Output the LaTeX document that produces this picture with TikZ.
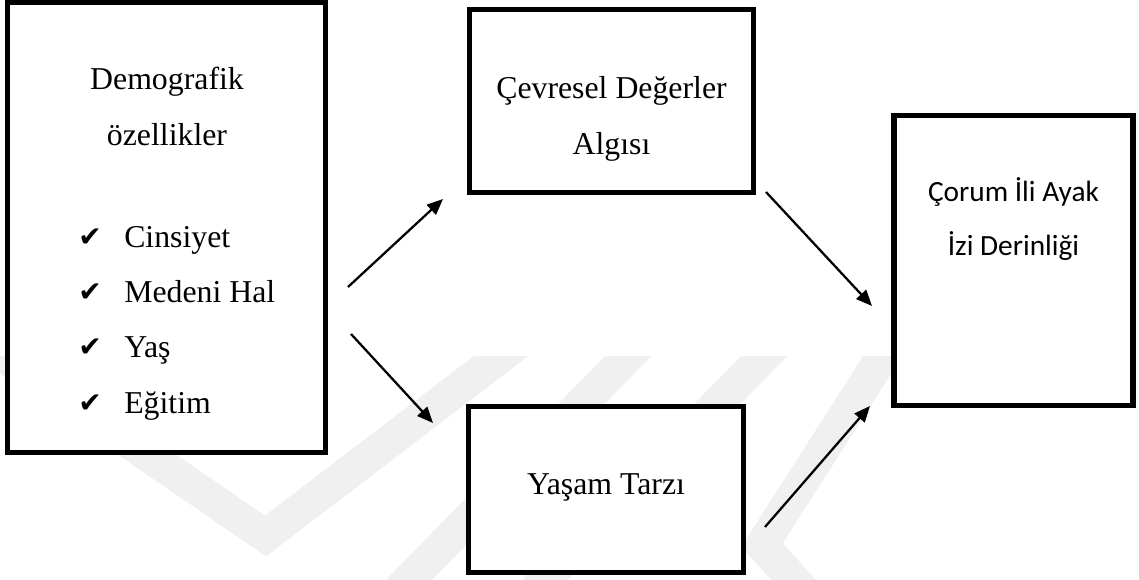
\documentclass[tikz,border=0pt]{standalone}
\usepackage{fontspec}
\setmainfont{Liberation Serif}
\newfontfamily\calib{Carlito}
\newfontfamily\dejavu{DejaVu Sans}
\usetikzlibrary{arrows.meta}
\begin{document}
\begin{tikzpicture}[x=0.75pt,y=-0.75pt,
  boxshape/.style={draw=black, line width=4.1pt, fill=white, inner sep=0pt},
  tnr/.style={font=\fontsize{23.85}{28}\selectfont, anchor=base, inner sep=0pt},
  tnrl/.style={tnr, anchor=base west},
  cal/.style={font=\calib\fontsize{22}{26}\selectfont, anchor=base, inner sep=0pt},
  chk/.style={font=\dejavu\fontsize{21}{24}\selectfont, anchor=base, inner sep=0pt},
  conn/.style={line width=1.7pt, -{Triangle[length=12pt,width=10pt]}},
  wm/.style={draw=black!6, line width=24.75pt, line join=miter}]
\useasboundingbox[fill=white] (0,0) rectangle (1139,580);
% watermark
\begin{scope}
  \clip (0,357) rectangle (1139,580);
  \draw[wm] (-20,340) -- (265.5,536) -- (522,340);
  \draw[wm] (644,340) -- (399,590);
  \draw[wm] (780,340) -- (535,590);
  \draw[wm] (893,340) -- (762,545) -- (830,620);
\end{scope}
% boxes
\node[boxshape, minimum width=238.13pt, minimum height=337.13pt] (demo) at (166.5,227.5) {};
\node[boxshape, minimum width=212.63pt, minimum height=136.88pt] (cevre) at (611.5,101) {};
\node[boxshape, minimum width=179.44pt, minimum height=217.13pt] (corum) at (1013.4,260.5) {};
\node[boxshape, minimum width=205.88pt, minimum height=124.13pt] (yasam) at (606,489.5) {};
% texts
\node[tnr] (d1) at (167,90) {Demografik};
\node[tnr] (d2) at (167,146) {özellikler};
\node[chk] (c1) at (90,247) {✔};
\node[chk] (c2) at (90,302) {✔};
\node[chk] (c3) at (90,357) {✔};
\node[chk] (c4) at (90,413) {✔};
\node[tnrl] (i1) at (124,248) {Cinsiyet};
\node[tnrl] (i2) at (124,303) {Medeni Hal};
\node[tnrl] (i3) at (124,358) {Yaş};
\node[tnrl] (i4) at (124,414) {Eğitim};
\node[tnr] (e1) at (611.5,99) {Çevresel Değerler};
\node[tnr] (e2) at (611.5,155) {Algısı};
\node[cal] (r1) at (1013.5,202) {Çorum İli Ayak};
\node[cal] (r2) at (1013.5,256) {İzi Derinliği};
\node[tnr] (y1) at (606,495) {Yaşam Tarzı};
% arrows
\coordinate (a1s) at (348,287); \coordinate (a1e) at (443,199);
\coordinate (a2s) at (351,334); \coordinate (a2e) at (433,423);
\coordinate (a3s) at (766,192); \coordinate (a3e) at (872,306);
\coordinate (a4s) at (765,527); \coordinate (a4e) at (870,406);
\draw[conn] (a1s) -- (a1e);
\draw[conn] (a2s) -- (a2e);
\draw[conn] (a3s) -- (a3e);
\draw[conn] (a4s) -- (a4e);
\end{tikzpicture}
\end{document}
